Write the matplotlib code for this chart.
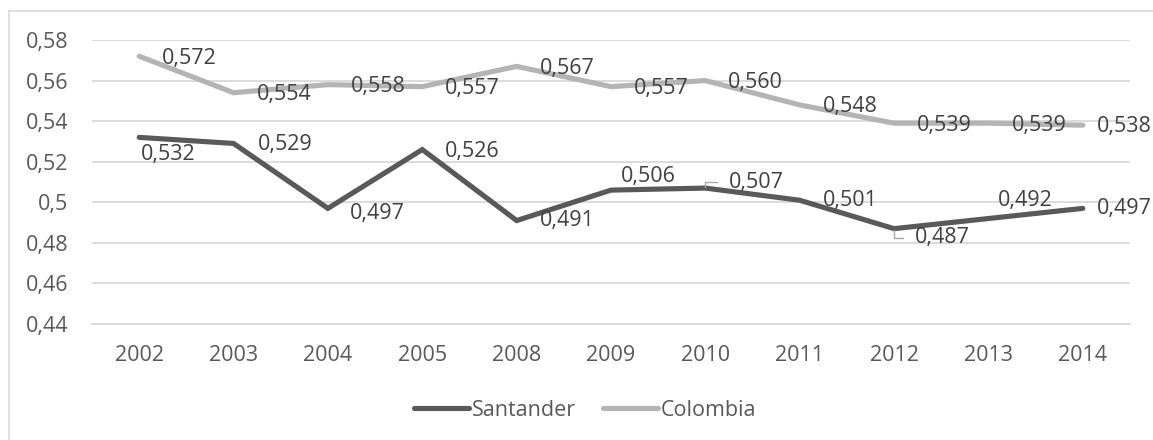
import matplotlib
matplotlib.use("Agg")
import matplotlib.pyplot as plt
from matplotlib.lines import Line2D

YEARS = ["2002", "2003", "2004", "2005", "2008", "2009", "2010", "2011", "2012", "2013", "2014"]
SANTANDER = [0.532, 0.529, 0.497, 0.526, 0.491, 0.506, 0.507, 0.501, 0.487, 0.492, 0.497]
COLOMBIA = [0.572, 0.554, 0.558, 0.557, 0.567, 0.557, 0.560, 0.548, 0.539, 0.539, 0.538]
Y_TICKS = [0.44, 0.46, 0.48, 0.50, 0.52, 0.54, 0.56, 0.58]

# label placement (pixels: left edge offset, downward offset)
SAN_OFFSETS = [(2, 17), (24, 1), (22, 5), (23, 2), (23, 0), (10, -14),
               (24, -6), (23, 0), (21, 9), (9, -18), (14, 0)]
COL_OFFSETS = [(23, 2)] * 10 + [(14, 1)]
SAN_LEADERS = {6, 8}

W, H = 1153, 440
FONT = "Open Sans"
FS = 15.5
TICK_C = "#595959"
LABEL_C = "#404040"
GRID_C = "#d9d9d9"
SAN_C = "#595959"
COL_C = "#b4b4b4"

plt.rcParams["font.family"] = [FONT, "DejaVu Sans"]

fig = plt.figure(figsize=(W / 100, H / 100), dpi=100)
ax = fig.add_axes([92 / W, 1 - 324 / H, (1130 - 92) / W, (324 - 40) / H])

x = list(range(len(YEARS)))
ax.plot(x, SANTANDER, color=SAN_C, lw=3.7, solid_capstyle="round",
        solid_joinstyle="miter", zorder=3)
ax.plot(x, COLOMBIA, color=COL_C, lw=3.7, solid_capstyle="round",
        solid_joinstyle="miter", zorder=3)


def fmt(v, digits=3):
    return f"{v:.{digits}f}".replace(".", ",")


for i, v in enumerate(SANTANDER):
    dx, dy = SAN_OFFSETS[i]
    kw = {}
    if i in SAN_LEADERS:
        kw["arrowprops"] = dict(arrowstyle="-", color="#a6a6a6", lw=1.0,
                                connectionstyle="angle,angleA=0,angleB=90,rad=0",
                                relpos=(0, 0.5), shrinkA=7, shrinkB=1)
    ax.annotate(fmt(v), xy=(i, v), xytext=(dx, -dy), textcoords="offset pixels",
                ha="left", va="center", fontsize=FS, color=LABEL_C,
                annotation_clip=False, zorder=4, **kw)

for i, v in enumerate(COLOMBIA):
    dx, dy = COL_OFFSETS[i]
    ax.annotate(fmt(v), xy=(i, v), xytext=(dx, -dy), textcoords="offset pixels",
                ha="left", va="center", fontsize=FS, color=LABEL_C,
                annotation_clip=False, zorder=4)

ax.set_xlim(-0.5, len(YEARS) - 0.5)
ax.set_ylim(0.44, 0.58)
ax.set_yticks(Y_TICKS)
ax.set_yticklabels([f"{t:g}".replace(".", ",") for t in Y_TICKS])
ax.set_xticks(x)
ax.set_xticklabels(YEARS)
ax.tick_params(axis="y", length=0, pad=17, labelsize=FS, labelcolor=TICK_C)
ax.tick_params(axis="x", length=0, pad=15, labelsize=FS, labelcolor=TICK_C)
ax.grid(axis="y", color=GRID_C, lw=1.3, zorder=0)
for s in ax.spines.values():
    s.set_visible(False)
ax.spines["bottom"].set_visible(True)
ax.spines["bottom"].set_color(GRID_C)
ax.spines["bottom"].set_linewidth(1.3)

handles = [Line2D([], [], color=SAN_C, lw=3.7, solid_capstyle="round"),
           Line2D([], [], color=COL_C, lw=3.7, solid_capstyle="round")]
fig.legend(handles, ["Santander", "Colombia"], loc="center",
           bbox_to_anchor=(585 / W, 1 - 410 / H), ncol=2, frameon=False,
           fontsize=FS, labelcolor=TICK_C, handlelength=2.55,
           handletextpad=0.15, columnspacing=1.25)

# chart frame (top and left edges visible)
fig.add_artist(Line2D([9 / W, 1], [1 - 11 / H, 1 - 11 / H], color=GRID_C, lw=1.2))
fig.add_artist(Line2D([9 / W, 9 / W], [0, 1 - 11 / H], color=GRID_C, lw=1.2))

fig.savefig("out.png", dpi=100, facecolor="white")
